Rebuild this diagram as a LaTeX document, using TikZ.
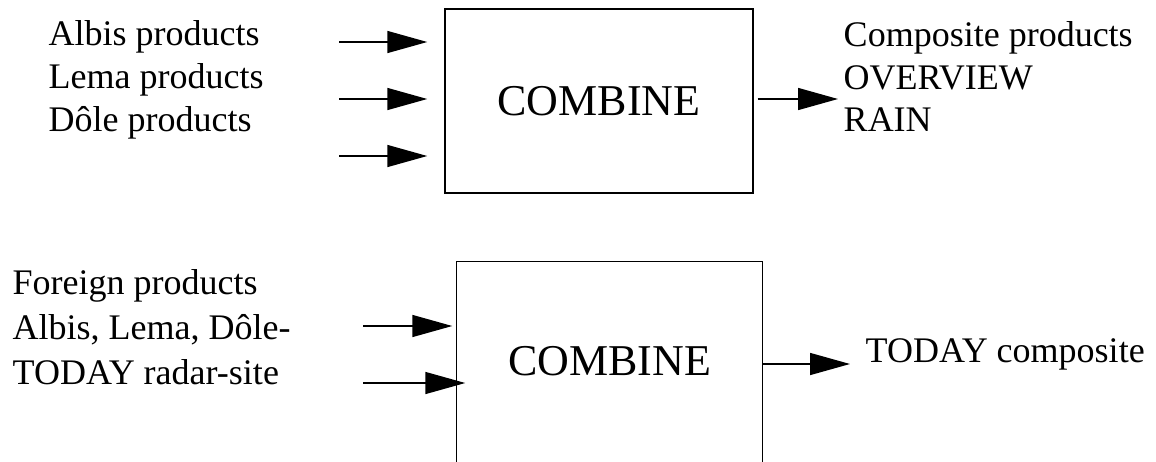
\documentclass[tikz,border=0pt]{standalone}
\usepackage{fontspec}
\setmainfont{Liberation Serif}
\usetikzlibrary{arrows.meta}
\usetikzlibrary{positioning}
\tikzset{feed/.style = {-{Triangle[length = 30pt, width = 16.5pt]}}}
\tikzset{lbl/.style = {anchor = base west, inner sep = 0, font = \fontsize{27}{30}\selectfont}}
\tikzset{procbox/.style = {inner sep = 0, font = \fontsize{33}{36}\selectfont}}

\begin{document}
\begin{tikzpicture}[x = 0.75pt, y = -0.75pt, line width = 1.1pt]
      \useasboundingbox (0, 0) rectangle (1156, 461);

      \node [procbox, draw, minimum width = 231pt, minimum height = 138pt] (top) at (599, 101) {COMBINE};

      \node [lbl] (albis) at (48, 45) {Albis products};
      \node [lbl] (lema) at (48, 88) {Lema products};
      \node [lbl] (dole) at (48, 131) {Dôle products};
      \node [lbl] (compo) at (843, 46) {Composite products};
      \node [lbl] (overview) at (843, 89) {OVERVIEW};
      \node [lbl] (rain) at (843, 131) {RAIN};

      \coordinate (in1) at (339, 42);
      \coordinate (in2) at (339, 99);
      \coordinate (in3) at (339, 156);
      \coordinate (out1) at (838, 99);
      \draw [feed, shorten >= 12.75pt] (in1) -- (in1 -| top.west);
      \draw [feed, shorten >= 12.75pt] (in2) -- (in2 -| top.west);
      \draw [feed, shorten >= 12.75pt] (in3) -- (in3 -| top.west);
      \draw [feed, shorten <= 3pt] (out1 -| top.east) -- (out1);

      \node [procbox, minimum width = 228.75pt, minimum height = 149.25pt] (bot) at (609.5, 361.5) {COMBINE};
      \draw (bot.south west) -- (bot.north west) -- (bot.north east) -- (bot.south east);

      \node [lbl] (foreign) at (12, 294) {Foreign products};
      \node [lbl] (swiss) at (12, 339) {Albis, Lema, Dôle-};
      \node [lbl] (site) at (12, 384) {TODAY radar-site};
      \node [lbl] (today) at (865, 362) {TODAY composite};

      \coordinate (in4) at (363, 326);
      \coordinate (in5) at (363, 383);
      \coordinate (out2) at (850, 364);
      \draw [feed, shorten >= 3pt] (in4) -- (in4 -| bot.west);
      \draw [feed] (in5) -- ([xshift = 6.75pt] in5 -| bot.west);
      \draw [feed] (out2 -| bot.east) -- (out2);
    \end{tikzpicture}
\end{document}
